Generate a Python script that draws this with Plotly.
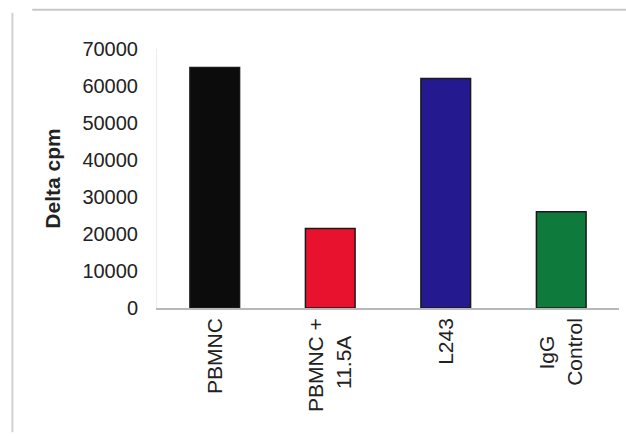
import plotly.graph_objects as go

# Proliferation response per condition
NB = "\u00a0"
categories = ["PBMNC", "PBMNC +<br>11.5A" + NB * 3, "L243", "IgG" + NB * 3 + "<br>Control"]
delta_cpm = [65000, 21500, 62000, 26000]
bar_colors = ["#0c0c0c", "#e8122e", "#24198f", "#0e7a3c"]
y_ticks = [0, 10000, 20000, 30000, 40000, 50000, 60000, 70000]

fig = go.Figure(
    go.Bar(
        x=categories,
        y=delta_cpm,
        marker=dict(color=bar_colors, line=dict(color="#1a1a1a", width=1.5)),
        width=0.43,
    )
)

font_family = "Liberation Sans, Arial, sans-serif"

fig.update_layout(
    width=626,
    height=436,
    margin=dict(l=157, r=7, t=49, b=128),
    paper_bgcolor="white",
    plot_bgcolor="white",
    showlegend=False,
    font=dict(family=font_family, color="#222222"),
    xaxis=dict(
        tickangle=-90,
        tickfont=dict(size=21, color="#222222"),
        showline=True,
        linecolor="#b8b8b8",
        linewidth=1.5,
        ticks="",
        showgrid=False,
        range=[-0.5, 3.5],
    ),
    yaxis=dict(
        range=[0, 70000],
        tickvals=y_ticks,
        ticktext=[str(v) for v in y_ticks],
        tickfont=dict(size=20, color="#222222"),
        ticklabelstandoff=14,
        showline=True,
        linecolor="#ececec",
        linewidth=1,
        ticks="",
        ticklen=0,
        showgrid=False,
        zeroline=False,
        title=dict(
            text="<b>Delta cpm</b>",
            font=dict(size=21, color="#222222"),
            standoff=16,
        ),
    ),
    shapes=[
        # outer frame: top and left edges
        dict(type="line", xref="paper", yref="paper",
             x0=-0.27, x1=1.02, y0=1.152, y1=1.152,
             line=dict(color="#c8c8c8", width=2)),
        dict(type="line", xref="paper", yref="paper",
             x0=-0.313, x1=-0.313, y0=1.14, y1=-0.48,
             line=dict(color="#d2d2d2", width=2)),
    ],
)

fig.write_html("out.html")
